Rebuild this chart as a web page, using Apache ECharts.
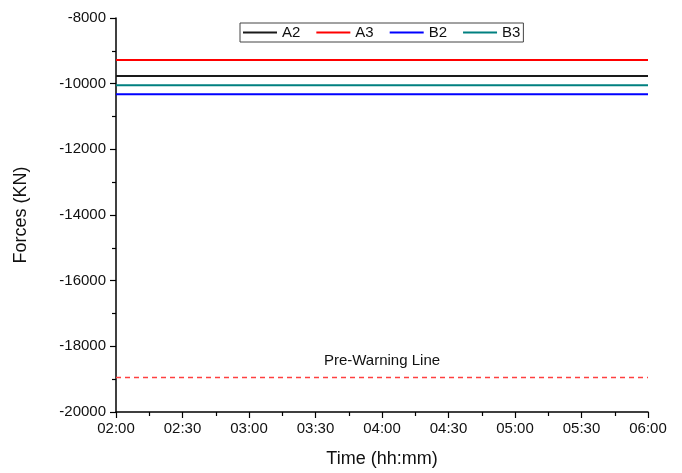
<!DOCTYPE html>
<html><head><meta charset="utf-8">
<script src="https://cdn.jsdelivr.net/npm/echarts@6/dist/echarts.min.js"></script>
<style>html,body{margin:0;padding:0;background:#fff}#c{width:682px;height:473px}</style>
</head><body><div id="c"></div>
<script>
// time in minutes since 00:00
const times = [120, 150, 180, 210, 240, 270, 300, 330, 360];
const seriesNames = ['A2', 'A3', 'B2', 'B3'];
const A2 = [-9770, -9770, -9770, -9770, -9770, -9770, -9770, -9770, -9770];
const A3 = [-9280, -9280, -9280, -9280, -9280, -9280, -9280, -9280, -9280];
const B2 = [-10320, -10320, -10320, -10320, -10320, -10320, -10320, -10320, -10320];
const B3 = [-10050, -10050, -10050, -10050, -10050, -10050, -10050, -10050, -10050];
const preWarning = [-18950, -18950, -18950, -18950, -18950, -18950, -18950, -18950, -18950];
const preWarningLabel = 'Pre-Warning Line';
const preWarningLabelTime = 240;
const colors = ['#1a1a1a', '#ff0000', '#0000ff', '#008080'];

const fmt = v => { const h = Math.floor(v / 60), m = v % 60; return String(h).padStart(2,'0') + ':' + String(m).padStart(2,'0'); };
const pairs = arr => times.map((t, i) => [t, arr[i]]);
const font = 'Liberation Sans, Arial, sans-serif';

const chart = echarts.init(document.getElementById('c'), null, {renderer: 'canvas'});
const dataSets = [A2, A3, B2, B3];
const series = seriesNames.map((n, i) => ({
  name: n, type: 'line', data: pairs(dataSets[i]), showSymbol: false, symbol: 'none',
  lineStyle: {color: colors[i], width: 2}, itemStyle: {color: colors[i]}, animation: false
}));
series.push({
  name: 'pre', type: 'line', symbol: 'none', animation: false,
  data: pairs(preWarning),
  lineStyle: {color: '#ff4040', width: 1.6, type: [5, 4]},
  markPoint: {
    symbol: 'circle', symbolSize: 0, silent: true, animation: false,
    data: [{coord: [preWarningLabelTime, preWarning[4]], value: preWarningLabel}],
    label: {show: true, position: 'top', distance: 9, formatter: preWarningLabel, color: '#111', fontSize: 15, fontFamily: font},
    itemStyle: {color: 'transparent'}
  }
});

chart.setOption({
  backgroundColor: '#fff',
  animation: false,
  grid: {left: 116, right: 34, top: 18, bottom: 60},
  legend: {
    data: seriesNames, left: 240, top: 23, icon: 'rect', itemWidth: 34, itemHeight: 2,
    itemGap: 16, padding: [2, 3, 2, 3], borderColor: '#444', borderWidth: 1,
    textStyle: {fontSize: 15, fontFamily: font, color: '#111'}
  },
  xAxis: {
    type: 'value', min: 120, max: 360, interval: 30,
    name: 'Time (hh:mm)', nameLocation: 'middle', nameGap: 38,
    nameTextStyle: {fontSize: 18, fontFamily: font, color: '#111'},
    axisLine: {lineStyle: {color: '#000', width: 1.5}},
    axisTick: {show: true, inside: false, length: 6, lineStyle: {color: '#000', width: 1.2}},
    minorTick: {show: true, splitNumber: 2, length: 4, lineStyle: {color: '#000', width: 1.2}},
    axisLabel: {formatter: fmt, fontSize: 15, fontFamily: font, color: '#111', margin: 9},
    splitLine: {show: false}
  },
  yAxis: {
    type: 'value', min: -20000, max: -8000, interval: 2000,
    name: 'Forces (KN)', nameLocation: 'middle', nameGap: 86, nameRotate: 90,
    nameTextStyle: {fontSize: 18, fontFamily: font, color: '#111'},
    axisLine: {show: true, lineStyle: {color: '#000', width: 1.5}},
    axisTick: {show: true, inside: false, length: 6, lineStyle: {color: '#000', width: 1.2}},
    minorTick: {show: true, splitNumber: 2, length: 4, lineStyle: {color: '#000', width: 1.2}},
    axisLabel: {formatter: v => String(v), fontSize: 15, fontFamily: font, color: '#111', margin: 10},
    splitLine: {show: false}
  },
  series: series
});
</script></body></html>
